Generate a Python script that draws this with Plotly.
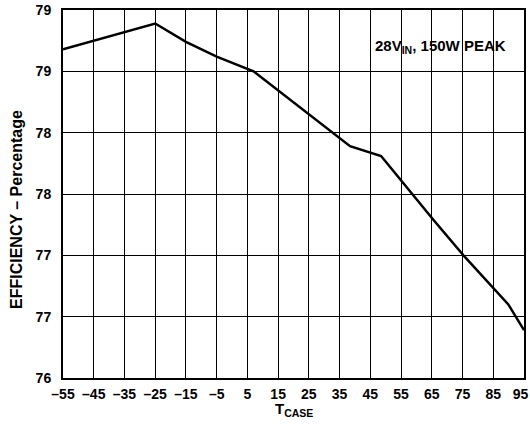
import plotly.graph_objects as go

t_case = [-55, -45, -25, -15, -5, 7, 38.4, 48.5, 65.5, 75.3, 89.9, 95]
efficiency = [78.68, 78.75, 78.89, 78.74, 78.62, 78.50, 77.89, 77.81, 77.29, 77.0, 76.60, 76.39]

x_ticks = list(range(-55, 96, 10))
x_labels = [str(v).replace("-", "\u2013") for v in x_ticks]
x_labels[-1] = x_labels[-1] + "\u2002"
y_ticks = [76, 76.5, 77, 77.5, 78, 78.5, 79]
y_labels = ["76", "77", "77", "78", "78", "79", "79"]

FONT = "Liberation Sans, Arial, sans-serif"

fig = go.Figure()
fig.add_trace(go.Scatter(x=t_case, y=efficiency, mode="lines",
                         line=dict(color="black", width=2.5), showlegend=False))

fig.add_annotation(x=0.965, y=0.9, xref="paper", yref="paper", xanchor="right", yanchor="middle",
                   text="28V<sub>IN</sub>, 150W PEAK", showarrow=False,
                   font=dict(family=FONT, size=15, color="black", weight="bold"))

fig.add_annotation(xref="paper", yref="paper", x=0, y=0.5, xshift=-47, yshift=-16,
                   xanchor="center", yanchor="middle", textangle=-90,
                   text="EFFICIENCY \u2013 Percentage", showarrow=False,
                   font=dict(family=FONT, size=16, color="black", weight="bold"))

fig.add_annotation(xref="paper", yref="paper", x=0.5, y=0, yshift=-31,
                   xanchor="center", yanchor="middle",
                   text="T<sub>CASE</sub>", showarrow=False,
                   font=dict(family=FONT, size=15, color="black", weight="bold"))

fig.update_layout(
    width=530, height=427,
    margin=dict(l=63, r=6, t=10, b=49),
    paper_bgcolor="white", plot_bgcolor="white",
    font=dict(family=FONT, size=14, color="black", weight="bold"),
    xaxis=dict(range=[-55, 95], tickvals=x_ticks, ticktext=x_labels,
               showgrid=True, gridcolor="black", gridwidth=1,
               showline=True, linecolor="black", linewidth=2, mirror=True,
               ticks="", zeroline=False, ticklabeloverflow="allow",
               ticklabelstandoff=2, automargin=False),
    yaxis=dict(range=[76, 79], tickvals=y_ticks, ticktext=y_labels,
               showgrid=True, gridcolor="black", gridwidth=1,
               showline=True, linecolor="black", linewidth=2, mirror=True,
               ticks="", zeroline=False, ticklabelstandoff=7, automargin=False),
)

fig.write_html("out.html", config={"displayModeBar": False},
               post_script="document.body.style.margin='0';")
